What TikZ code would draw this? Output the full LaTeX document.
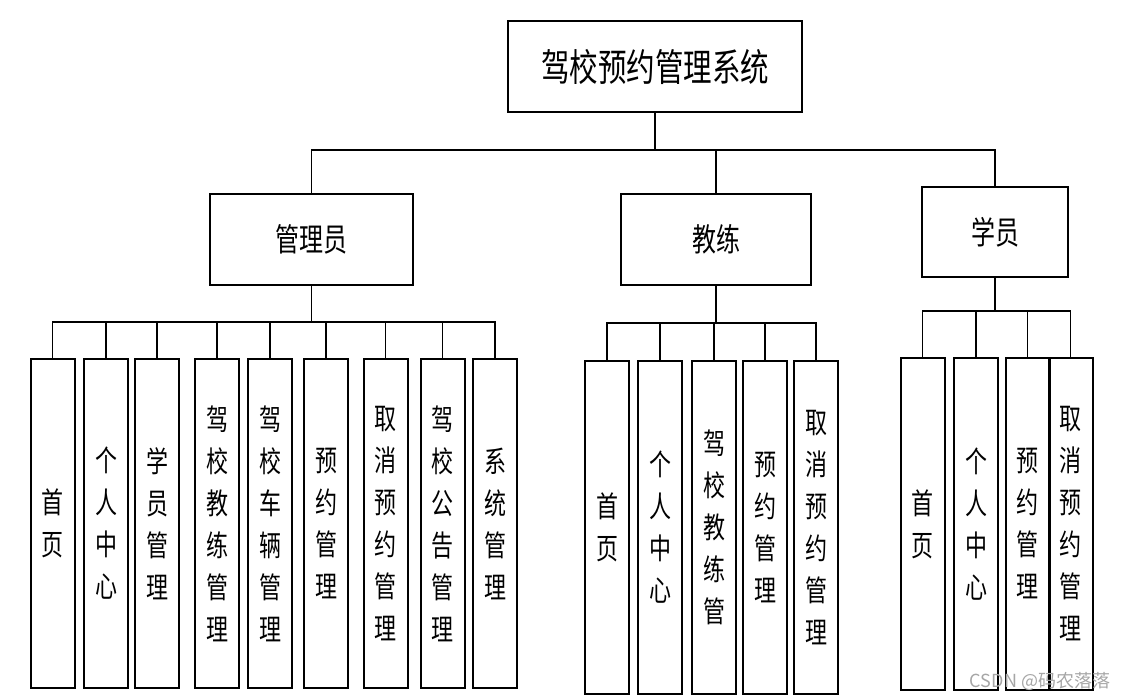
\documentclass[tikz,border=0pt]{standalone}
\usepackage{fontspec}
\newfontfamily\cjk[FakeStretch=0.75]{Noto Sans CJK SC}
\newfontfamily\cjkplain{Noto Sans CJK SC}

\begin{document}
\begin{tikzpicture}[x=0.75pt, y=-0.75pt,
    box/.style={draw, line width=1.5pt, inner sep=0pt, align=center},
    leaf/.style={box, minimum width=33pt, font=\cjk\fontsize{22pt}{31.5pt}\selectfont},
    link/.style={line width=1.4pt}]

\useasboundingbox (0,0) rectangle (1124,699);

% top
\node[box, minimum width=220.5pt, minimum height=68.25pt, font=\cjk\fontsize{28.5pt}{34pt}\selectfont] (root) at (655,66.5) {驾校预约管理系统};

\node[box, minimum width=152.25pt, minimum height=68.25pt, font=\cjk\fontsize{24pt}{30pt}\selectfont] (adm) at (311.5,239.5) {管理员};
\node[box, minimum width=142.5pt, minimum height=68.25pt, font=\cjk\fontsize{24pt}{30pt}\selectfont] (coach) at (716,239.5) {教练};
\node[box, minimum width=109.5pt, minimum height=67.5pt, font=\cjk\fontsize{24pt}{30pt}\selectfont] (stu) at (995,232) {学员};

\coordinate (rootbus) at (655,150);
\draw[link] (root.south) -- (rootbus);
\draw[link] (adm.north) |- (rootbus) -| (stu.north);
\draw[link] (coach.north) -- (coach.north |- rootbus);

% admin
\node[leaf, minimum height=246.75pt] (a1) at (52.5,523.5) {首\\页};
\node[leaf, minimum height=246.75pt] (a2) at (106,523.5) {个\\人\\中\\心};
\node[leaf, minimum height=246.75pt] (a3) at (157,523.5) {学\\员\\管\\理};
\node[leaf, minimum height=246.75pt] (a4) at (217,523.5) {驾\\校\\教\\练\\管\\理};
\node[leaf, minimum height=246.75pt] (a5) at (270,523.5) {驾\\校\\车\\辆\\管\\理};
\node[leaf, minimum height=246.75pt] (a6) at (326,523.5) {预\\约\\管\\理};
\node[leaf, minimum height=246.75pt] (a7) at (385.5,523.5) {取\\消\\预\\约\\管\\理};
\node[leaf, minimum height=246.75pt] (a8) at (442.5,523.5) {驾\\校\\公\\告\\管\\理};
\node[leaf, minimum height=246.75pt] (a9) at (495,523.5) {系\\统\\管\\理};

\coordinate (admbus) at (311.5,322);
\draw[link] (adm.south) -- (admbus);
\draw[link] (a1.north) |- (admbus) -| (a9.north);
\draw[link] (a2.north) -- (a2.north |- admbus);
\draw[link] (a3.north) -- (a3.north |- admbus);
\draw[link] (a4.north) -- (a4.north |- admbus);
\draw[link] (a5.north) -- (a5.north |- admbus);
\draw[link] (a6.north) -- (a6.north |- admbus);
\draw[link] (a7.north) -- (a7.north |- admbus);
\draw[link] (a8.north) -- (a8.north |- admbus);

% coach
\node[leaf, minimum height=249.75pt] (c1) at (607,527.5) {首\\页};
\node[leaf, minimum height=249.75pt] (c2) at (660,527.5) {个\\人\\中\\心};
\node[leaf, minimum height=249.75pt] (c3) at (714,527.5) {驾\\校\\教\\练\\管};
\node[leaf, minimum height=249.75pt] (c4) at (765,527.5) {预\\约\\管\\理};
\node[leaf, minimum height=249.75pt] (c5) at (816,527.5) {取\\消\\预\\约\\管\\理};

\coordinate (coachbus) at (716,323);
\draw[link] (coach.south) -- (coachbus);
\draw[link] (c1.north) |- (coachbus) -| (c5.north);
\draw[link] (c2.north) -- (c2.north |- coachbus);
\draw[link] (c3.north) -- (c3.north |- coachbus);
\draw[link] (c4.north) -- (c4.north |- coachbus);

% student
\node[leaf, minimum height=249pt] (s1) at (922.5,524) {首\\页};
\node[leaf, minimum height=249pt] (s2) at (976,524) {个\\人\\中\\心};
\node[leaf, minimum height=249pt] (s3) at (1027.5,524) {预\\约\\管\\理};
\node[leaf, minimum height=249pt] (s4) at (1070.5,524) {取\\消\\预\\约\\管\\理};

\coordinate (stubus) at (995,311);
\draw[link] (stu.south) -- (stubus);
\draw[link] (s1.north) |- (stubus) -| (s4.north);
\draw[link] (s2.north) -- (s2.north |- stubus);
\draw[link] (s3.north) -- (s3.north |- stubus);

\node[text=black!35, font=\cjkplain\fontsize{13.5pt}{16pt}\selectfont, inner sep=0pt] (mark) at (1040,681) {CSDN @码农落落};

\end{tikzpicture}
\end{document}
